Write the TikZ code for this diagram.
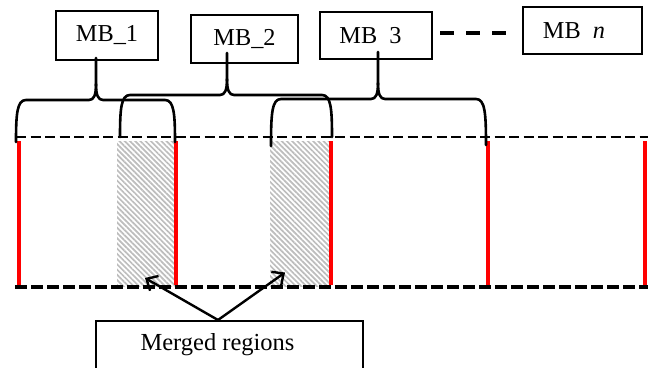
\documentclass[tikz,border=0pt]{standalone}
\usepackage{fontspec}
\setmainfont{Liberation Serif}
\usetikzlibrary{patterns.meta,arrows.meta}

% curly brace made of lines: left end, right end, tip x, bar y, left/right bottom, tip top
\newcommand\barbrace[7]{%
  \draw[bracestyle]
    (#1,#5) .. controls (#1,#4+14) and (#1+1,#4) .. (#1+10,#4)
    -- (#3-7,#4) .. controls (#3-2,#4) and (#3,#4-5) .. (#3,#4-16)
    -- (#3,#7);
  \draw[bracestyle]
    (#3,#4-16) .. controls (#3,#4-5) and (#3+2,#4) .. (#3+7,#4)
    -- (#2-10,#4) .. controls (#2-1,#4) and (#2,#4+14) .. (#2,#6);
}

\tikzset{
  bracestyle/.style={line width=2.6pt, line cap=round, line join=round},
  mbbox/.style={draw, line width=1.6pt, inner sep=0pt, font=\fontsize{24.3}{28}\selectfont},
  redbar/.style={draw=red, line width=3.6pt},
  hatched/.style={pattern={Lines[angle=-45,distance=3.7pt,line width=1.7pt]}, pattern color=black!26},
  pointer/.style={line width=2.4pt, -{Straight Barb[length=9pt,width=17pt,line width=2.4pt]}},
}

\begin{document}
\begin{tikzpicture}[x=1pt,y=-1pt]
  \clip (0,0) rectangle (656,367);
  \fill[white] (0,0) rectangle (656,367);

  % merged (overlapping) regions
  \fill[hatched] (117,141) rectangle (176,286);
  \fill[hatched] (270,141) rectangle (331,286);

  % upper and lower bounds of the strip
  \draw[line width=1.7pt, dash pattern=on 10pt off 4.5pt] (16,137) -- (648,137);
  \draw[line width=4pt, dash pattern=on 12pt off 4pt] (15,286.5) -- (648,286.5);

  % block boundaries
  \foreach \bx in {19,176,331,488,645}
    \draw[redbar] (\bx,141) -- (\bx,285);

  % boxes
  \node[mbbox, minimum width=102pt, minimum height=49pt] (mb1) at (107,35.5) {MB\_1};
  \node[mbbox, minimum width=107pt, minimum height=48pt] (mb2) at (244.5,39) {MB\_2};
  \node[mbbox, minimum width=112pt, minimum height=47pt] (mb3) at (376,35.5) {MB\enspace 3\kern11pt};
  \node[mbbox, minimum width=119pt, minimum height=47pt] (mbn) at (582.5,30.5) {MB\enspace\textit{n}\kern17pt};

  % braces grouping the blocks of each MB
  \barbrace{16}{175}{96}{100}{142}{142}{58}
  \barbrace{120}{332}{227}{95}{137}{137}{53}
  \barbrace{271}{486}{378}{99}{146}{145}{52}

  % ellipsis between MB_3 and MB_n
  \coordinate (dotsA) at (440,33);
  \coordinate (dotsB) at (507,33);
  \draw[line width=4.2pt, dash pattern=on 14pt off 12pt] (dotsA) -- (dotsB);

  % label box with pointers
  \node[draw, line width=1.6pt, minimum width=267pt, minimum height=70pt, anchor=north] (merged) at (229.5,320) {};
  \node[font=\fontsize{24.5}{28}\selectfont] (mergedtext) at (217.5,344.5) {Merged regions};
  \coordinate (apex) at (218,320);
  \coordinate (tipA) at (145,278);
  \coordinate (tipB) at (285,272.5);
  \draw[pointer] (apex) -- (tipA);
  \draw[pointer] (apex) -- (tipB);
\end{tikzpicture}
\end{document}
